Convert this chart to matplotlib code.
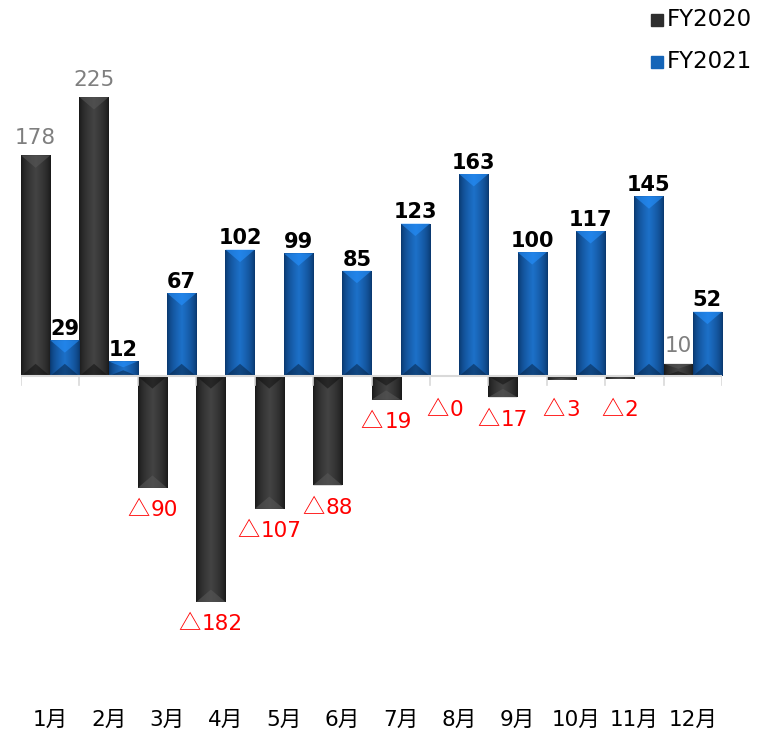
import matplotlib.pyplot as plt
import numpy as np
from matplotlib.patches import Polygon
from matplotlib.offsetbox import TextArea, HPacker, AnnotationBbox

months = ['1月', '2月', '3月', '4月', '5月', '6月', '7月', '8月', '9月', '10月', '11月', '12月']
fy2020 = [178, 225, -90, -182, -107, -88, -19, 0, -17, -3, -2, 10]
fy2021 = [29, 12, 67, 102, 99, 85, 123, 163, 100, 117, 145, 52]

plt.rcParams['font.family'] = ['DejaVu Sans', 'Noto Sans CJK JP']

fig = plt.figure(figsize=(7.59, 7.32), dpi=100)
W, H = 759, 732
ax = fig.add_axes([21 / W, 1 - 700 / H, (722 - 21) / W, (700 - 40) / H])
ax.set_xlim(0, 12)
ax.set_ylim(-261, 271)
ax.axis('off')

x = np.arange(12)
w = 0.5


def shade(bars, edge, mid):
    # horizontal gradient inside each bar, darker at the sides
    g = np.concatenate([np.linspace(0, 1, 50), np.linspace(1, 0, 50)])
    g = g ** 0.6
    c0 = np.array(plt.matplotlib.colors.to_rgb(edge))
    c1 = np.array(plt.matplotlib.colors.to_rgb(mid))
    img = (c0[None, :] * (1 - g[:, None]) + c1[None, :] * g[:, None])[None, :, :]
    for b in bars:
        x0, y0 = b.get_x(), b.get_y()
        bw, bh = b.get_width(), b.get_height()
        if bh == 0:
            continue
        im = ax.imshow(img, extent=[x0, x0 + bw, min(y0, y0 + bh), max(y0, y0 + bh)],
                       aspect='auto', zorder=2, interpolation='bilinear')
        im.set_clip_path(b)
        # bevels at both ends
        d = 10 if abs(bh) > 24 else abs(bh) * 0.4
        s = 1 if bh > 0 else -1
        top = y0 + bh
        tri = Polygon([[x0, top], [x0 + bw, top], [x0 + bw / 2, top - s * d]],
                      closed=True, facecolor=np.minimum(c1 * 1.3, 1), alpha=0.6, zorder=3, lw=0)
        ax.add_patch(tri)
        bot = Polygon([[x0, y0], [x0 + bw, y0], [x0 + bw / 2, y0 + s * d]],
                      closed=True, facecolor=c0 * 0.6, alpha=0.5, zorder=3, lw=0)
        ax.add_patch(bot)


b1 = ax.bar(x + 0.25, fy2020, width=w, color='#2e2e2e', zorder=1, linewidth=0)
b2 = ax.bar(x + 0.75, fy2021, width=w, color='#1565b8', zorder=1, linewidth=0)
shade(b1, '#161616', '#434343')
shade(b2, '#083468', '#1d70c8')

# baseline and tick marks
ax.plot([0, 12], [0, 0], color='#d9d9d9', lw=1.5, zorder=4)
for i in range(13):
    ax.plot([i, i], [0, -7], color='#d9d9d9', lw=1.2, zorder=4)

for i, v in enumerate(fy2020):
    if v > 0:
        ax.text(i + 0.25, v + 6, str(v), ha='center', va='bottom', fontsize=15.5, color='#7f7f7f', zorder=5)
    else:
        yc = -max(abs(v) + 17.7, 26.6)
        tri = TextArea('△', textprops=dict(fontsize=16, color='#ff0000', family=['Noto Sans CJK JP']))
        num = TextArea(str(abs(v)), textprops=dict(fontsize=15.5, color='#ff0000', family=['DejaVu Sans']))
        box = HPacker(children=[tri, num], pad=0, sep=1, align='baseline')
        ab = AnnotationBbox(box, (i + 0.25, yc), frameon=False, box_alignment=(0.5, 0.5), pad=0, zorder=5)
        ax.add_artist(ab)

for i, v in enumerate(fy2021):
    ax.text(i + 0.75, v + 1, str(v), ha='center', va='bottom', fontsize=15, fontweight='bold', color='black', zorder=5)

for i, m in enumerate(months):
    fig.text((21 + (i + 0.5) * (701 / 12)) / W, 1 - 720 / H, m, ha='center', va='center', fontsize=15.5,
             family=['DejaVu Sans', 'Noto Sans CJK JP'])

# legend
lx = 651
for k, (lab, col) in enumerate([('FY2020', '#2e2e2e'), ('FY2021', '#1565b8')]):
    yy = 20 + k * 42
    fig.patches.append(plt.Rectangle((lx / W, 1 - (yy + 6) / H), 12 / W, 12 / H,
                                     transform=fig.transFigure, color=col, figure=fig))
    fig.text((lx + 16) / W, 1 - yy / H, lab, ha='left', va='center', fontsize=16.5)

fig.savefig('out.png', dpi=100)
